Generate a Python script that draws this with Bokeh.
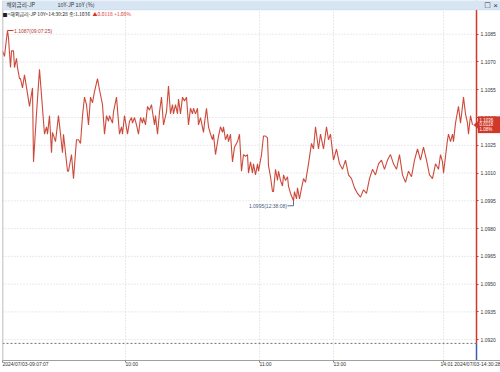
from bokeh.plotting import figure
from bokeh.models import (FixedTicker, PrintfTickFormatter, Span, Label, BoxAnnotation,
                          PolyAnnotation, LinearAxis)
from bokeh.embed import file_html
from bokeh.resources import INLINE

# ---------------- data ----------------
tick_idx = [0, 2, 3, 5, 6, 8, 9, 11, 12, 14, 15, 17, 18, 20, 22, 27, 30, 31, 34, 37,
            40, 42, 44, 45, 47, 49, 50, 53, 56, 60, 61, 65, 66, 69, 71, 74, 76, 78, 80, 82,
            84, 86, 88, 90, 92, 95, 97, 100, 102, 104, 106, 107, 110, 111, 114, 117, 119, 120, 122, 125,
            127, 129, 130, 132, 134, 136, 138, 140, 141, 143, 145, 147, 149, 150, 152, 153, 155, 157, 159, 161,
            164, 166, 168, 170, 171, 173, 175, 176, 178, 180, 182, 184, 186, 188, 190, 191, 193, 195, 196, 198,
            201, 202, 204, 206, 208, 210, 211, 213, 216, 218, 220, 221, 223, 225, 226, 228, 230, 232, 235, 237,
            239, 241, 243, 245, 246, 248, 250, 251, 253, 255, 256, 259, 261, 263, 265, 266, 268, 270, 271, 273,
            275, 276, 278, 280, 281, 283, 285, 286, 288, 291, 292, 294, 295, 297, 298, 301, 303, 306, 309, 311,
            313, 316, 318, 321, 324, 326, 328, 331, 334, 337, 340, 343, 346, 349, 352, 355, 358, 361, 364, 367,
            370, 373, 376, 379, 382, 385, 388, 391, 394, 397, 400, 403, 406, 409, 412, 415, 418, 421, 424, 427,
            430, 433, 436, 438, 440, 441, 443, 445, 446, 448, 450, 451, 453, 455, 456, 458, 460, 461, 463, 465,
            466, 468, 470]
yields = [1.1076, 1.1073, 1.1078, 1.1087, 1.1083, 1.1067, 1.1076, 1.1076, 1.1067, 1.1072, 1.1067, 1.1061, 1.1061, 1.1056, 1.1063, 1.1046, 1.1056, 1.1016, 1.1042, 1.1066,
          1.1045, 1.1031, 1.1035, 1.1031, 1.1041, 1.1021, 1.1032, 1.1027, 1.1041, 1.1021, 1.1031, 1.1011, 1.1011, 1.1020, 1.1007, 1.1028, 1.1028, 1.1026, 1.1041, 1.1051,
          1.1047, 1.1036, 1.1051, 1.1048, 1.1054, 1.1061, 1.1055, 1.1047, 1.1031, 1.1041, 1.1038, 1.1041, 1.1037, 1.1043, 1.1051, 1.1031, 1.1035, 1.1031, 1.1041, 1.1031,
          1.1038, 1.1040, 1.1037, 1.1040, 1.1036, 1.1031, 1.1040, 1.1037, 1.1040, 1.1036, 1.1046, 1.1044, 1.1047, 1.1043, 1.1036, 1.1041, 1.1031, 1.1043, 1.1051, 1.1036,
          1.1043, 1.1057, 1.1042, 1.1047, 1.1042, 1.1047, 1.1042, 1.1050, 1.1042, 1.1051, 1.1049, 1.1051, 1.1036, 1.1045, 1.1042, 1.1045, 1.1042, 1.1045, 1.1036, 1.1040,
          1.1032, 1.1037, 1.1045, 1.1035, 1.1031, 1.1028, 1.1031, 1.1020, 1.1030, 1.1035, 1.1032, 1.1035, 1.1028, 1.1031, 1.1027, 1.1031, 1.1016, 1.1024, 1.1027, 1.1031,
          1.1011, 1.1020, 1.1019, 1.1020, 1.1010, 1.1016, 1.1010, 1.1015, 1.1009, 1.1015, 1.1011, 1.1020, 1.1030, 1.1030, 1.1029, 1.1014, 1.1008, 1.1000, 1.1000, 1.1012,
          1.1006, 1.1011, 1.1006, 1.1003, 1.1009, 1.1006, 1.1008, 1.1003, 1.0999, 1.0995, 1.1000, 1.0996, 1.1002, 1.0996, 1.0999, 1.1007, 1.1005, 1.1015, 1.1026, 1.1023,
          1.1035, 1.1023, 1.1031, 1.1023, 1.1035, 1.1028, 1.1031, 1.1017, 1.1023, 1.1015, 1.1012, 1.1017, 1.1009, 1.1007, 1.1002, 1.0999, 1.0997, 1.1001, 1.0999, 1.1007,
          1.1012, 1.1009, 1.1015, 1.1017, 1.1012, 1.1017, 1.1020, 1.1015, 1.1012, 1.1020, 1.1009, 1.1005, 1.1011, 1.1008, 1.1017, 1.1023, 1.1017, 1.1024, 1.1017, 1.1009,
          1.1007, 1.1015, 1.1012, 1.1020, 1.1016, 1.1010, 1.1019, 1.1028, 1.1031, 1.1027, 1.1031, 1.1027, 1.1037, 1.1043, 1.1046, 1.1037, 1.1046, 1.1051, 1.1042, 1.1037,
          1.1031, 1.1041, 1.1036]

prev_close = 1.0918
last_value = 1.1036
change = 0.0118
change_pct = 1.08
y_ticks = [1.0920, 1.0935, 1.0950, 1.0965, 1.0980, 1.0995, 1.1010, 1.1025, 1.1040, 1.1055, 1.1070, 1.1085]
x_tick_idx = [0, 123, 257, 331, 441]
x_tick_labels = ["2024/07/03-09:07:07", "10:00", "11:00", "13:00", "14:01 2024/07/03-14:30:28"]
hi_text = "1.1087(09:07:25)"
lo_text = "1.0995(12:38:08)"
window_title = "해외금리-JP"
series_title = "10Y-JP 10Y (%)"
header_text = "■<해외금리-JP 10Y>14:30:28 종:1.1036"
header_change = "▲0.0118  +1.08%"

# ---------------- geometry helpers ----------------
W, H = 500, 372
ML, MB = 2, 9
AXIS_PX = 476               # pixel column of the price axis
DV = 0.0015 / 28.0          # value per pixel
REF_V, REF_PX = 1.1085, 34  # anchor level


def px_x(px):
    return px - ML


def px_y(py):
    return REF_V - (py - REF_PX) * DV


y_top = px_y(0)
y_bot = px_y(H - MB)
x_axis_loc = px_x(AXIS_PX)

p = figure(width=W, height=H, output_backend="svg", toolbar_location=None,
           x_range=(0, W - ML), y_range=(y_bot, y_top),
           y_axis_location=None, min_border_left=ML, min_border_right=0,
           min_border_top=0, min_border_bottom=MB)
p.background_fill_color = "white"
p.border_fill_color = "white"
p.outline_line_color = None

FONT = "Liberation Sans"
KFONT = "Noto Sans CJK KR"

# price axis, drawn at a fixed x inside the frame
ya = LinearAxis(fixed_location=x_axis_loc)
ya.ticker = FixedTicker(ticks=y_ticks)
ya.formatter = PrintfTickFormatter(format="%.4f")
ya.major_label_text_font_size = "5px"
ya.major_label_text_font = FONT
ya.major_label_text_color = "#333333"
ya.major_label_standoff = 2
ya.major_tick_out = 2
ya.major_tick_in = 0
ya.minor_tick_line_color = None
ya.major_tick_line_color = "#c83a2a"
ya.axis_line_color = None
p.add_layout(ya, "right")

# bottom axis, labels left-aligned at their ticks
xa = p.xaxis[0]
xa.ticker = FixedTicker(ticks=x_tick_idx)
xa.major_label_overrides = {t: s for t, s in zip(x_tick_idx, x_tick_labels)}
xa.major_label_orientation = -0.0001
xa.major_label_text_font_size = "5px"
xa.major_label_text_font = FONT
xa.major_label_text_color = "#333333"
xa.major_label_standoff = 1
xa.major_tick_out = 2
xa.major_tick_in = 0
xa.minor_tick_line_color = None
xa.major_tick_line_color = "#888888"
xa.axis_line_color = "#a0a0a0"

p.xgrid.ticker = FixedTicker(ticks=x_tick_idx)
p.xgrid.grid_line_color = "#d4d4d4"
p.xgrid.grid_line_dash = "1 2"
p.ygrid.visible = False
# horizontal grid only up to the price axis
p.segment(x0=[0] * len(y_ticks), x1=[x_axis_loc] * len(y_ticks), y0=y_ticks, y1=y_ticks,
          line_color="#d4d4d4", line_dash="1 2", line_width=1)

# previous close line
p.segment(x0=[0], x1=[x_axis_loc], y0=[prev_close], y1=[prev_close],
          line_color="#707070", line_dash="2 2", line_width=1)

# price-axis line: red above previous close, blue below
p.segment(x0=[x_axis_loc, x_axis_loc], x1=[x_axis_loc, x_axis_loc],
          y0=[y_top, prev_close], y1=[prev_close, y_bot],
          line_color=["#d0392a", "#3a5fa8"], line_width=1.5)

# left edge line
p.add_layout(Span(location=0, dimension="height", line_color="#a8a8a8", line_width=1.5))

# series
p.line(tick_idx, yields, line_color="#cc4a3c", line_width=1.1)

# high / low markers
i_hi = yields.index(max(yields))
i_lo = yields.index(min(yields))
hx, hy = tick_idx[i_hi], yields[i_hi]
lx, ly = tick_idx[i_lo], yields[i_lo]
p.segment(x0=[hx], x1=[hx + 6], y0=[hy], y1=[hy], line_color="#c0392b", line_width=1)
p.add_layout(Label(x=hx + 6.5, y=hy, text=hi_text, text_font_size="5px", text_font=FONT,
                   text_color="#b03a30", text_baseline="middle", text_align="left"))
p.segment(x0=[lx, lx], x1=[lx, lx - 6], y0=[ly, ly - 5 * DV], y1=[ly - 5 * DV, ly - 5 * DV],
          line_color="#5a6c8c", line_width=1)
p.add_layout(Label(x=lx - 6.5, y=ly - 5 * DV, text=lo_text, text_font_size="5px", text_font=FONT,
                   text_color="#4a5c80", text_baseline="middle", text_align="right"))

# header line
p.add_layout(Label(x=px_x(2), y=px_y(13.5), text=header_text, text_font_size="5px", text_font=KFONT,
                   text_color="#222222", text_baseline="middle", text_align="left"))
p.add_layout(Label(x=px_x(92), y=px_y(13.5), text=header_change, text_font_size="5px", text_font=KFONT,
                   text_color="#e0302a", text_baseline="middle", text_align="left"))

# current value tag
p.add_layout(PolyAnnotation(xs=[px_x(473), px_x(478), px_x(478)],
                            ys=[last_value, last_value + 4 * DV, last_value - 4 * DV],
                            fill_color="#d0392a", fill_alpha=1, line_color="#d0392a"))
p.add_layout(BoxAnnotation(left=px_x(477.5), right=px_x(501), top=px_y(117), bottom=px_y(133.5),
                           fill_color="#d0392a", fill_alpha=1, line_color="#d0392a"))
for k, s in enumerate([f"{last_value:.4f}", f"{change:.4f}", f"{change_pct:.2f}%"]):
    p.add_layout(Label(x=px_x(479), y=px_y(120 + 5 * k), text=s, text_font_size="4.5px", text_font=FONT,
                       text_color="white", text_baseline="middle", text_align="left"))

# window title bar
p.add_layout(BoxAnnotation(left=px_x(-2), right=px_x(502), top=px_y(-2), bottom=px_y(9.5),
                           fill_color="#d8e6f4", fill_alpha=1, line_color="#a9c3de", line_width=1))
p.add_layout(Label(x=px_x(6), y=px_y(4.8), text=window_title, text_font_size="5.5px", text_font=KFONT,
                   text_color="#333333", text_baseline="middle", text_align="left"))
p.add_layout(Label(x=px_x(57), y=px_y(4.8), text=series_title, text_font_size="5.5px", text_font=KFONT,
                   text_color="#333333", text_baseline="middle", text_align="left"))
p.add_layout(Label(x=px_x(487), y=px_y(4.8), text="□", text_font_size="7px", text_font="DejaVu Sans",
                   text_color="#333333", text_baseline="middle", text_align="center"))
p.add_layout(Label(x=px_x(495), y=px_y(4.8), text="×", text_font_size="8px", text_font="Liberation Sans",
                   text_color="#333333", text_baseline="middle", text_align="center"))

open("out.html", "w").write(file_html(p, INLINE))
